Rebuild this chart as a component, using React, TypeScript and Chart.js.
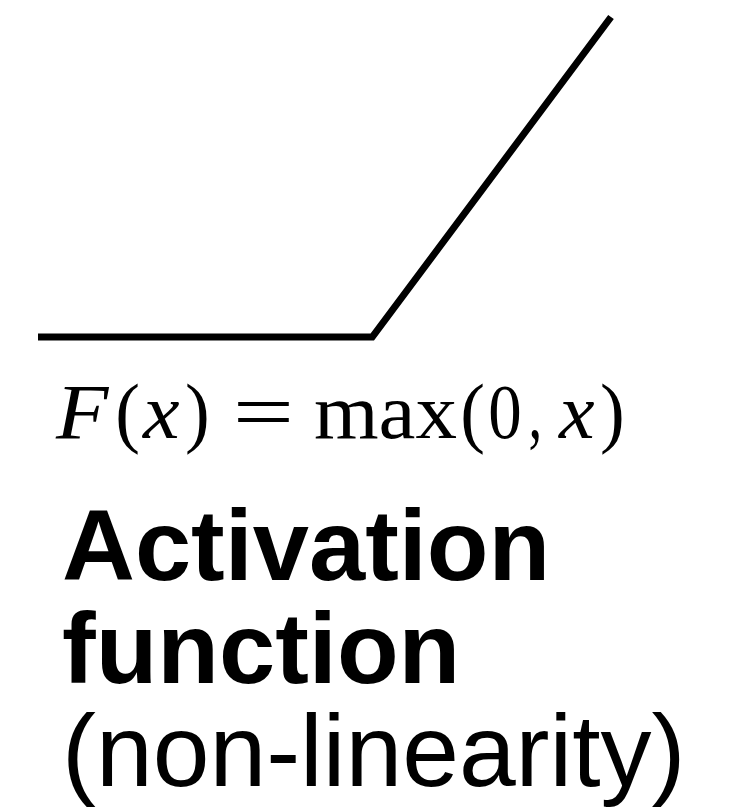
import React, { useEffect, useRef } from "react";
import { Chart, registerables } from "chart.js";

Chart.register(...registerables);

// ReLU: F(x) = max(0, x)
const xValues = [-1.4, 0, 1];
const yValues = [0, 0, 1];

// formula tokens with their ink extent (left, right) in the picture
const formulaTokens: { text: string; italic: boolean; left: number; right: number }[] = [
  { text: "F", italic: true, left: 55, right: 110 },
  { text: "(", italic: false, left: 118, right: 138 },
  { text: "x", italic: true, left: 142, right: 180 },
  { text: ")", italic: false, left: 187, right: 207 },
  { text: "=", italic: false, left: 237, right: 290 },
  { text: "max", italic: false, left: 315, right: 457 },
  { text: "(", italic: false, left: 463, right: 483 },
  { text: "0", italic: false, left: 490, right: 520 },
  { text: ",", italic: false, left: 530, right: 539 },
  { text: "x", italic: true, left: 558, right: 595 },
  { text: ")", italic: false, left: 602, right: 622 },
];

const labelLines: { text: string; bold: boolean; y: number; size: number }[] = [
  { text: "Activation", bold: true, y: 580, size: 101 },
  { text: "function", bold: true, y: 683, size: 101 },
  { text: "(non-linearity)", bold: false, y: 786, size: 102 },
];

const textPlugin = {
  id: "reluText",
  afterDraw(chart: any) {
    const ctx = chart.ctx as CanvasRenderingContext2D;
    ctx.save();
    ctx.fillStyle = "#000";
    ctx.textBaseline = "alphabetic";
    ctx.textAlign = "left";
    for (const t of formulaTokens) {
      ctx.font = `${t.italic ? "italic " : ""}78px 'Liberation Serif', 'DejaVu Serif', serif`;
      const m = ctx.measureText(t.text);
      const inkL = -m.actualBoundingBoxLeft;
      const inkW = m.actualBoundingBoxRight + m.actualBoundingBoxLeft;
      const sx = Math.min(1.4, Math.max(0.7, (t.right - t.left) / inkW));
      ctx.save();
      ctx.translate(t.left, 438);
      ctx.scale(sx, 1);
      ctx.fillText(t.text, -inkL, 0);
      ctx.restore();
    }
    for (const l of labelLines) {
      ctx.font = `${l.bold ? "bold " : ""}${l.size}px 'Liberation Sans', Arial, sans-serif`;
      ctx.fillText(l.text, 62, l.y);
    }
    ctx.restore();
  },
};

export default function App() {
  const ref = useRef<HTMLCanvasElement | null>(null);
  useEffect(() => {
    if (!ref.current) return;
    const chart = new Chart(ref.current, {
      type: "line",
      data: {
        datasets: [
          {
            data: xValues.map((x, i) => ({ x, y: yValues[i] })),
            borderColor: "#000",
            borderWidth: 7,
            pointRadius: 0,
            fill: false,
            tension: 0,
            clip: false as any,
            borderJoinStyle: "miter",
            borderCapStyle: "butt",
          },
        ],
      },
      options: {
        responsive: false,
        animation: false,
        layout: { padding: { left: 38, right: 127, top: 17, bottom: 475 } },
        scales: {
          x: { type: "linear", min: -1.4, max: 1, display: false },
          y: { type: "linear", min: 0, max: 1, display: false },
        },
        plugins: { legend: { display: false }, tooltip: { enabled: false } },
      },
      plugins: [textPlugin],
    });
    return () => chart.destroy();
  }, []);
  return (
    <div style={{ position: "absolute", left: 0, top: 0, width: 738, height: 812, background: "#fff" }}>
      <canvas ref={ref} width={738} height={812} />
    </div>
  );
}
